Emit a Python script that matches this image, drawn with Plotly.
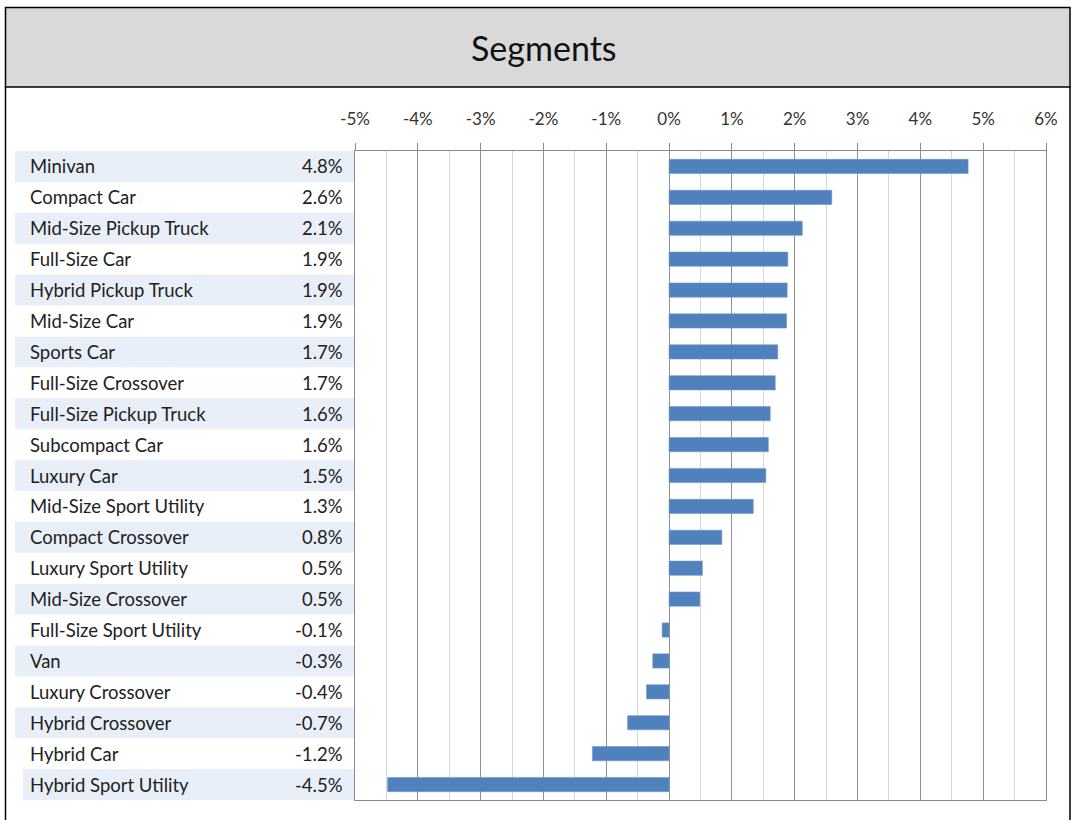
import plotly.graph_objects as go

# ---- data ----
categories = [
    "Minivan", "Compact Car", "Mid-Size Pickup Truck", "Full-Size Car",
    "Hybrid Pickup Truck", "Mid-Size Car", "Sports Car", "Full-Size Crossover",
    "Full-Size Pickup Truck", "Subcompact Car", "Luxury Car",
    "Mid-Size Sport Utility", "Compact Crossover", "Luxury Sport Utility",
    "Mid-Size Crossover", "Full-Size Sport Utility", "Van", "Luxury Crossover",
    "Hybrid Crossover", "Hybrid Car", "Hybrid Sport Utility",
]
values = [
    4.76, 2.59, 2.12, 1.89, 1.88, 1.87, 1.73, 1.69, 1.61, 1.58, 1.54,
    1.34, 0.84, 0.53, 0.49, -0.11, -0.26, -0.36, -0.66, -1.22, -4.48,
]
tick_values = [-5, -4, -3, -2, -1, 0, 1, 2, 3, 4, 5, 6]
tick_labels = [f"{v}%" for v in tick_values]
title_text = "Segments"

# ---- layout geometry (pixels) ----
W, H = 1073, 820
ML, MR, MT, MB = 355, 27, 151, 20
PW, PH = W - ML - MR, H - MT - MB


def px(x):
    return (x - ML) / PW


def py(y):
    return (H - MB - y) / PH


FONT = "Lato, 'Open Sans', sans-serif"
TXT = "#222222"

fig = go.Figure()
fig.add_trace(go.Bar(
    x=values, y=categories, orientation="h",
    width=0.46,
    marker=dict(color="#4f81bd", line=dict(color="#6f98cc", width=0.6)),
    hoverinfo="x+y",
))

shapes = []
annotations = []

# title band & outer frame
shapes.append(dict(type="rect", xref="paper", yref="paper",
                   x0=px(5.5), x1=px(1070), y0=py(87), y1=py(7.5),
                   fillcolor="#d9d9d9", line=dict(color="#000", width=1.5),
                   layer="above"))
shapes.append(dict(type="line", xref="paper", yref="paper",
                   x0=px(5.5), x1=px(5.5), y0=py(87), y1=py(830),
                   line=dict(color="#000", width=1.5)))
shapes.append(dict(type="line", xref="paper", yref="paper",
                   x0=px(1070), x1=px(1070), y0=py(87), y1=py(830),
                   line=dict(color="#000", width=1.5)))
annotations.append(dict(text=title_text, xref="paper", yref="paper",
                        x=px(544), y=py(47), xanchor="center", yanchor="middle",
                        showarrow=False, font=dict(family=FONT, size=34, color="#111")))

# row bands and labels
for i, (cat, val) in enumerate(zip(categories, values)):
    if i % 2 == 0:
        x0 = 23 if i == len(categories) - 1 else 15
        shapes.append(dict(type="rect", xref="paper", yref="y",
                           x0=px(x0), x1=0, y0=i - 0.5, y1=i + 0.5,
                           fillcolor="#e9eff8", line=dict(width=0), layer="below"))
    annotations.append(dict(text=cat, xref="paper", yref="y", x=px(28), y=cat,
                            xanchor="left", yanchor="middle", showarrow=False,
                            font=dict(family=FONT, size=18.5, color=TXT)))
    annotations.append(dict(text=f"{val:.1f}%", xref="paper", yref="y", x=px(345), y=cat,
                            xanchor="right", yanchor="middle", showarrow=False,
                            font=dict(family=FONT, size=18.5, color=TXT)))

fig.update_layout(
    width=W, height=H,
    margin=dict(l=ML, r=MR, t=MT, b=MB, pad=0),
    paper_bgcolor="white", plot_bgcolor="white",
    showlegend=False,
    shapes=shapes, annotations=annotations,
    xaxis=dict(
        side="top", range=[-5, 6],
        tickmode="array", tickvals=tick_values, ticktext=tick_labels,
        tickfont=dict(family=FONT, size=17, color="#333"),
        ticks="outside", ticklen=7, tickcolor="#8a8a8a", tickwidth=1.3,
        ticklabelstandoff=11,
        showgrid=True, gridcolor="#8f8f8f", gridwidth=1.4,
        minor=dict(dtick=0.5, tick0=0, showgrid=True, gridcolor="#d6d6d6", gridwidth=1.4, ticks=""),
        zeroline=False,
        showline=True, mirror=True, linecolor="#8a8a8a", linewidth=1.4,
        fixedrange=True,
    ),
    yaxis=dict(
        categoryorder="array", categoryarray=categories,
        range=[len(categories) - 0.5, -0.5],
        showticklabels=False, ticks="", showgrid=False, zeroline=False,
        showline=True, mirror=True, linecolor="#8a8a8a", linewidth=1.4,
        fixedrange=True,
    ),
)

fig.write_html(
    "out.html",
    config={"displayModeBar": False},
    post_script="document.body.style.margin='0';document.body.style.overflow='hidden';",
)
